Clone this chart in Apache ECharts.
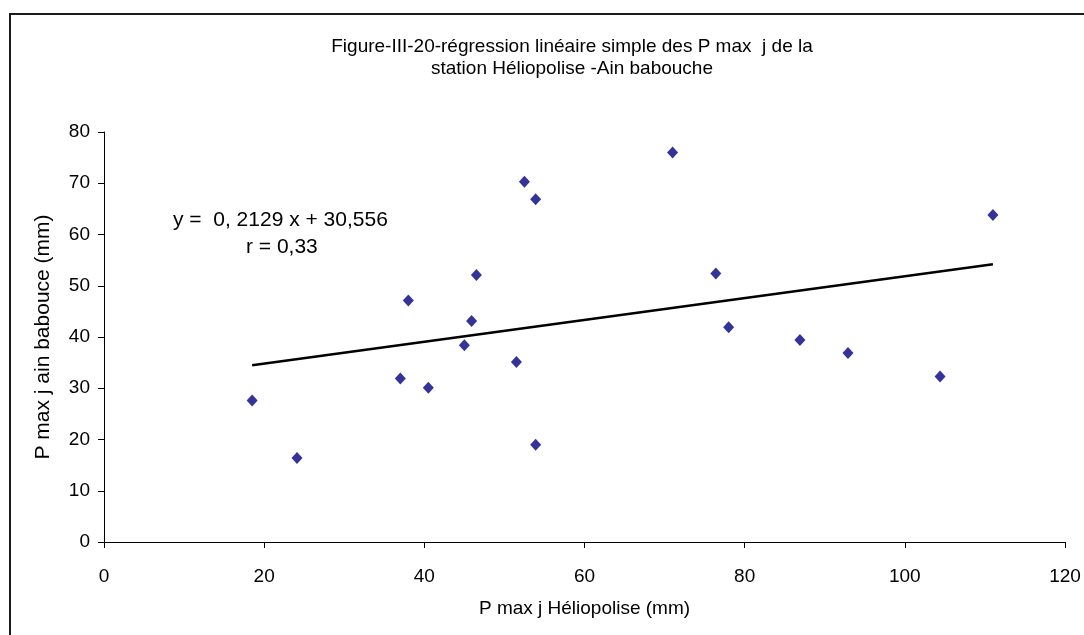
<!DOCTYPE html>
<html>
<head>
<meta charset="utf-8">
<script src="https://cdn.jsdelivr.net/npm/echarts@6/dist/echarts.min.js"></script>
<style>
  html, body { margin: 0; padding: 0; background: #fff; }
  #chart { width: 1084px; height: 635px; }
</style>
</head>
<body>
<div id="chart"></div>
<script>
// Daily maximum rainfall (mm): Héliopolise station (x) vs Ain babouche station (y)
const heliopolise = [18.5, 24.1, 71.0, 52.5, 53.9, 46.5, 38.0, 45.9, 45.0, 51.5, 76.4, 78.0, 37.0, 40.5, 53.9, 111.0, 86.9, 92.9, 104.4];
const ainBabouche = [27.6, 16.4, 76.0, 70.3, 66.9, 52.1, 47.1, 43.1, 38.4, 35.1, 52.4, 41.9, 31.9, 30.1, 19.0, 63.8, 39.4, 36.9, 32.3];

// Simple linear regression as stated on the chart
const slope = 0.2129;
const intercept = 30.556;
const equationText = 'y =  0, 2129 x + 30,556';
const rText = 'r = 0,33';

const xTicks = [0, 20, 40, 60, 80, 100, 120];
const yTicks = [0, 10, 20, 30, 40, 50, 60, 70, 80];

const points = heliopolise.map((x, i) => [x, ainBabouche[i]]);
const xMin = Math.min(...heliopolise);
const xMax = Math.max(...heliopolise);
const trend = [[xMin, slope * xMin + intercept], [xMax, slope * xMax + intercept]];

const FONT = 'Liberation Sans, Arial, sans-serif';

const chart = echarts.init(document.getElementById('chart'), null, { renderer: 'canvas' });
chart.setOption({
  backgroundColor: '#ffffff',
  animation: false,
  title: {
    text: 'Figure-III-20-régression linéaire simple des P max  j de la\nstation Héliopolise -Ain babouche',
    left: 567,
    top: 31,
    textAlign: 'center',
    textStyle: { fontFamily: FONT, fontSize: 19, fontWeight: 'normal', color: '#000', lineHeight: 22 }
  },
  grid: { left: 104, right: 19, top: 132, bottom: 93 },
  xAxis: {
    type: 'value',
    min: xTicks[0],
    max: xTicks[xTicks.length - 1],
    interval: 20,
    name: 'P max j Héliopolise (mm)',
    nameLocation: 'middle',
    nameGap: 57,
    nameTextStyle: { fontFamily: FONT, fontSize: 19, color: '#000' },
    axisLine: { show: true, onZero: false, lineStyle: { color: '#000', width: 1 } },
    axisTick: { show: true, length: 6, lineStyle: { color: '#000' } },
    axisLabel: { fontFamily: FONT, fontSize: 19, color: '#000', margin: 25 },
    splitLine: { show: false }
  },
  yAxis: {
    type: 'value',
    min: yTicks[0],
    max: yTicks[yTicks.length - 1],
    interval: 10,
    name: 'P max j ain babouce (mm)',
    nameLocation: 'middle',
    nameGap: 50,
    nameRotate: 90,
    nameTextStyle: { fontFamily: FONT, fontSize: 21, color: '#000' },
    axisLine: { show: true, onZero: false, lineStyle: { color: '#000', width: 1 } },
    axisTick: { show: true, length: 6, lineStyle: { color: '#000' } },
    axisLabel: { fontFamily: FONT, fontSize: 19, color: '#000', margin: 14 },
    splitLine: { show: false }
  },
  graphic: [
    {
      type: 'rect',
      shape: { x: 10, y: 14, width: 1200, height: 800 },
      style: { fill: 'none', stroke: '#1a1a1a', lineWidth: 2 },
      silent: true
    },
    {
      type: 'text',
      left: 173,
      top: 210,
      style: { text: equationText, font: '21px ' + FONT, fill: '#000' }
    },
    {
      type: 'text',
      left: 246,
      top: 237,
      style: { text: rText, font: '21px ' + FONT, fill: '#000' }
    }
  ],
  series: [
    {
      type: 'line',
      data: trend,
      symbol: 'none',
      lineStyle: { color: '#000', width: 2.5 },
      z: 2,
      silent: true
    },
    {
      type: 'scatter',
      data: points,
      symbol: 'diamond',
      symbolSize: [11, 12],
      itemStyle: { color: '#000080' },
      z: 3
    }
  ]
});
</script>
</body>
</html>
